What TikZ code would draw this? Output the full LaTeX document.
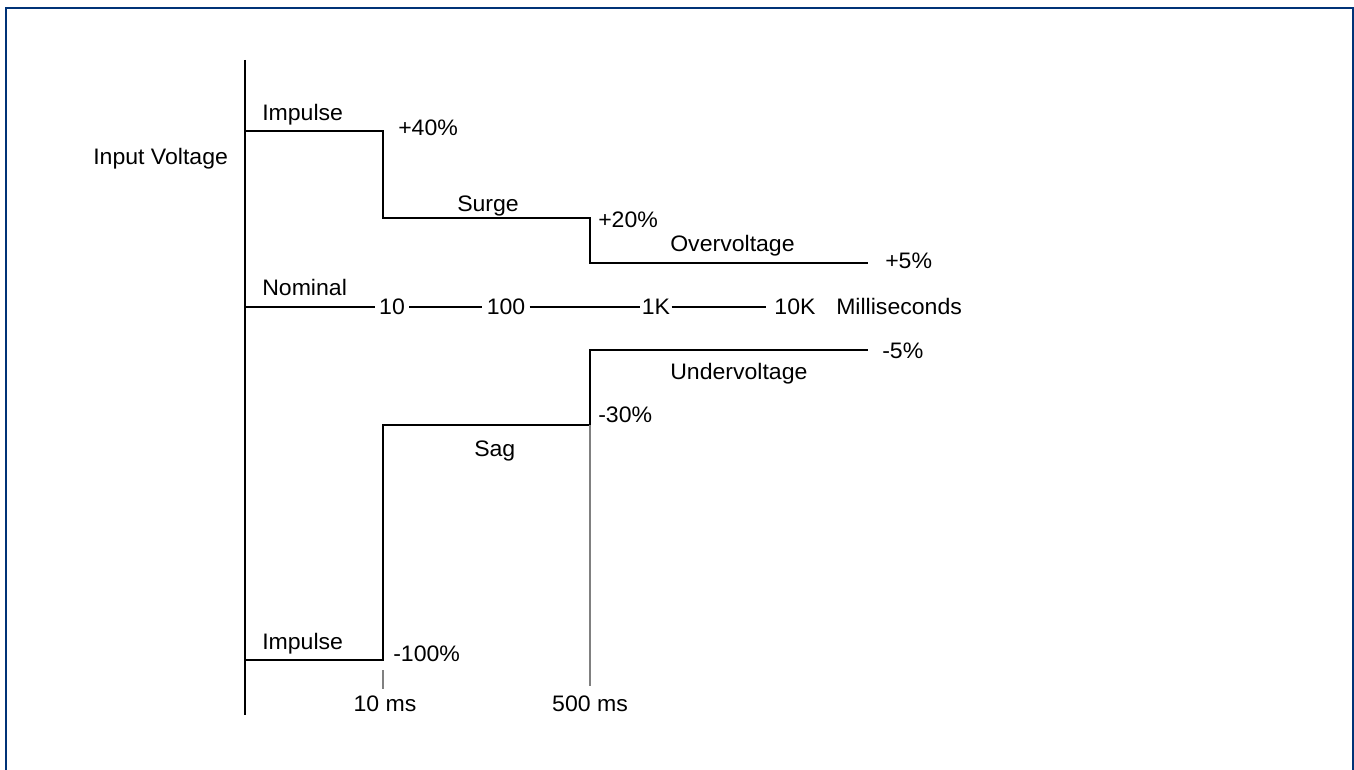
\documentclass[tikz,border=0pt]{standalone}
\usepackage{fontspec}
\setmainfont[FakeStretch=1.03]{Liberation Sans}
\definecolor{frameblue}{RGB}{0,51,119}

\begin{document}
\begin{tikzpicture}[x=0.75pt,y=-0.75pt,
    lbl/.style={inner sep=0pt,anchor=base west,font=\fontsize{16.8}{20}\selectfont},
    num/.style={inner xsep=3pt,inner ysep=0pt,anchor=base,font=\fontsize{16.8}{20}\selectfont},
    wave/.style={line width=1.1pt},
    mark line/.style={gray,line width=1pt}]
    \useasboundingbox (0,0) rectangle (1354,770);
    \draw[frameblue,line width=1.5pt] (6,780) -- (6,8) -- (1353,8) -- (1353,780);

    % voltage axis
    \draw[line width=1.6pt] (245,60) -- (245,715);
    \node[lbl] (vin) at (93,165) {Input Voltage};

    % over the nominal
    \coordinate (up0) at (245,131);
    \coordinate (up1) at (383,131);
    \coordinate (up2) at (383,218);
    \coordinate (up3) at (590,218);
    \coordinate (up4) at (590,263);
    \coordinate (up5) at (868,263);
    \draw[wave] (up0) -- (up1) -- (up2) -- (up3) -- (up4) -- (up5);

    \node[lbl] (impup) at (262,121) {Impulse};
    \node[lbl] (p40) at (398,136) {+40\%};
    \node[lbl] (surge) at (457,212) {Surge};
    \node[lbl] (p20) at (598,228) {+20\%};
    \node[lbl] (over) at (670,252) {Overvoltage};
    \node[lbl] (p5) at (885,269) {+5\%};

    % nominal / time axis
    \coordinate (nom) at (245,307);
    \node[lbl] (nomlbl) at (262,296) {Nominal};
    \node[num] (n10) at (392,315) {10};
    \node[num] (n100) at (506,315) {100};
    \node[num,inner xsep=1pt] (n1k) at (656,315) {1K};
    \node[num,inner xsep=6pt] (n10k) at (795,315) {10K};
    \node[lbl] (ms) at (836,315) {Milliseconds};
    \draw[wave] (nom) -- (n10.west |- nom);
    \draw[wave] (n10.east |- nom) -- (n100.west |- nom);
    \draw[wave] (n100.east |- nom) -- (n1k.west |- nom);
    \draw[wave] (n1k.east |- nom) -- (n10k.west |- nom);

    % under the nominal
    \coordinate (dn0) at (245,660);
    \coordinate (dn1) at (383,660);
    \coordinate (dn2) at (383,425);
    \coordinate (dn3) at (590,425);
    \coordinate (dn4) at (590,350);
    \coordinate (dn5) at (868,350);
    \draw[wave] (dn0) -- (dn1) -- (dn2) -- (dn3) -- (dn4) -- (dn5);

    \node[lbl] (m5) at (882,358) {-5\%};
    \node[lbl] (under) at (670,379) {Undervoltage};
    \node[lbl] (m30) at (598,422) {-30\%};
    \node[lbl] (sag) at (474,456) {Sag};
    \node[lbl] (impdn) at (262,649) {Impulse};
    \node[lbl] (m100) at (393,661) {-100\%};

    % time marks
    \coordinate (t10) at (383,689);
    \coordinate (t500) at (590,686);
    \draw[mark line] (383,670) -- (t10);
    \draw[mark line] (dn3) -- (t500);
    \node[lbl,anchor=base] (ms10) at (385,711) {10 ms};
    \node[lbl,anchor=base] (ms500) at (590,711) {500 ms};
\end{tikzpicture}
\end{document}
